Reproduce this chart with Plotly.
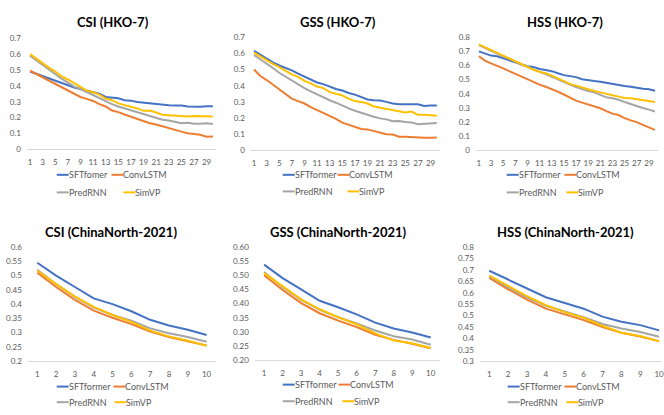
import plotly.graph_objects as go

# ---------------- data ----------------
steps_hko = list(range(1, 31))
steps_cn = list(range(1, 11))
models = ["SFTformer", "ConvLSTM", "PredRNN", "SimVP"]
models_first = ["SFTfomer", "ConvLSTM", "PredRNN", "SimVP"]

csi_hko_sftformer = [0.49, 0.475, 0.46, 0.45, 0.435, 0.42, 0.405, 0.39, 0.38, 0.37, 0.36, 0.35, 0.33, 0.328, 0.322,
                     0.31, 0.307, 0.298, 0.294, 0.29, 0.285, 0.28, 0.278, 0.277, 0.277, 0.27, 0.268, 0.268, 0.272, 0.272]
csi_hko_convlstm = [0.495, 0.475, 0.455, 0.435, 0.41, 0.39, 0.37, 0.35, 0.33, 0.318, 0.305, 0.285, 0.27, 0.245, 0.235,
                    0.22, 0.205, 0.195, 0.18, 0.165, 0.157, 0.145, 0.135, 0.125, 0.112, 0.102, 0.097, 0.092, 0.08, 0.082]
csi_hko_predrnn = [0.59, 0.56, 0.535, 0.505, 0.475, 0.445, 0.42, 0.395, 0.38, 0.36, 0.34, 0.325, 0.3, 0.285, 0.27,
                   0.258, 0.245, 0.232, 0.222, 0.21, 0.195, 0.187, 0.182, 0.175, 0.165, 0.168, 0.162, 0.162, 0.165, 0.16]
csi_hko_simvp = [0.6, 0.57, 0.545, 0.515, 0.49, 0.46, 0.44, 0.415, 0.39, 0.37, 0.36, 0.345, 0.32, 0.31, 0.29,
                 0.28, 0.27, 0.258, 0.243, 0.245, 0.232, 0.218, 0.215, 0.212, 0.208, 0.208, 0.21, 0.208, 0.21, 0.208]

gss_hko_sftformer = [0.615, 0.59, 0.565, 0.545, 0.525, 0.51, 0.495, 0.475, 0.455, 0.435, 0.42, 0.41, 0.395, 0.38, 0.37,
                     0.355, 0.345, 0.33, 0.315, 0.31, 0.308, 0.3, 0.29, 0.285, 0.283, 0.285, 0.285, 0.275, 0.277, 0.278]
gss_hko_convlstm = [0.5, 0.46, 0.435, 0.405, 0.38, 0.35, 0.32, 0.305, 0.29, 0.268, 0.25, 0.232, 0.21, 0.195, 0.172,
                    0.16, 0.145, 0.132, 0.13, 0.12, 0.11, 0.1, 0.098, 0.085, 0.085, 0.082, 0.08, 0.078, 0.078, 0.08]
gss_hko_predrnn = [0.59, 0.565, 0.535, 0.51, 0.48, 0.455, 0.43, 0.405, 0.385, 0.365, 0.345, 0.33, 0.31, 0.295, 0.275,
                   0.26, 0.245, 0.232, 0.218, 0.208, 0.198, 0.192, 0.18, 0.182, 0.175, 0.172, 0.162, 0.165, 0.165, 0.17]
gss_hko_simvp = [0.605, 0.58, 0.555, 0.535, 0.515, 0.49, 0.47, 0.455, 0.43, 0.415, 0.395, 0.385, 0.36, 0.35, 0.34,
                 0.32, 0.305, 0.3, 0.29, 0.272, 0.265, 0.26, 0.252, 0.243, 0.235, 0.24, 0.22, 0.22, 0.216, 0.215]

hss_hko_sftformer = [0.70, 0.685, 0.67, 0.665, 0.65, 0.635, 0.62, 0.61, 0.595, 0.59, 0.575, 0.568, 0.56, 0.545, 0.532,
                     0.525, 0.518, 0.503, 0.495, 0.49, 0.485, 0.477, 0.468, 0.462, 0.455, 0.45, 0.442, 0.435, 0.432, 0.422]
hss_hko_convlstm = [0.665, 0.635, 0.615, 0.6, 0.58, 0.56, 0.54, 0.522, 0.505, 0.485, 0.465, 0.45, 0.435, 0.415, 0.395,
                    0.375, 0.352, 0.338, 0.325, 0.31, 0.298, 0.278, 0.26, 0.25, 0.228, 0.212, 0.2, 0.18, 0.162, 0.145]
hss_hko_predrnn = [0.745, 0.725, 0.70, 0.68, 0.665, 0.65, 0.625, 0.605, 0.59, 0.57, 0.555, 0.54, 0.52, 0.5, 0.48,
                   0.465, 0.448, 0.432, 0.42, 0.41, 0.392, 0.375, 0.368, 0.358, 0.342, 0.328, 0.31, 0.3, 0.288, 0.275]
hss_hko_simvp = [0.75, 0.73, 0.71, 0.69, 0.67, 0.65, 0.628, 0.61, 0.59, 0.57, 0.555, 0.545, 0.528, 0.51, 0.488,
                 0.47, 0.458, 0.445, 0.43, 0.42, 0.41, 0.398, 0.39, 0.38, 0.37, 0.368, 0.362, 0.352, 0.345, 0.342]

csi_cn_sftformer = [0.545, 0.5, 0.46, 0.42, 0.4, 0.375, 0.345, 0.325, 0.31, 0.292]
csi_cn_convlstm = [0.51, 0.46, 0.415, 0.377, 0.352, 0.33, 0.304, 0.285, 0.27, 0.255]
csi_cn_predrnn = [0.52, 0.47, 0.425, 0.388, 0.362, 0.342, 0.315, 0.298, 0.285, 0.268]
csi_cn_simvp = [0.518, 0.47, 0.427, 0.39, 0.362, 0.338, 0.307, 0.287, 0.272, 0.254]

gss_cn_sftformer = [0.538, 0.49, 0.45, 0.41, 0.387, 0.362, 0.333, 0.312, 0.298, 0.28]
gss_cn_convlstm = [0.50, 0.448, 0.402, 0.366, 0.340, 0.317, 0.29, 0.272, 0.258, 0.242]
gss_cn_predrnn = [0.512, 0.458, 0.413, 0.378, 0.352, 0.33, 0.305, 0.285, 0.273, 0.255]
gss_cn_simvp = [0.508, 0.46, 0.415, 0.38, 0.352, 0.327, 0.295, 0.27, 0.26, 0.243]

hss_cn_sftformer = [0.696, 0.657, 0.62, 0.58, 0.555, 0.53, 0.495, 0.473, 0.458, 0.435]
hss_cn_convlstm = [0.665, 0.615, 0.57, 0.53, 0.505, 0.48, 0.45, 0.425, 0.408, 0.388]
hss_cn_predrnn = [0.672, 0.623, 0.58, 0.543, 0.518, 0.493, 0.463, 0.443, 0.428, 0.407]
hss_cn_simvp = [0.675, 0.63, 0.585, 0.545, 0.515, 0.49, 0.455, 0.425, 0.41, 0.387]

titles = ["CSI (HKO-7)", "GSS (HKO-7)", "HSS (HKO-7)",
          "CSI (ChinaNorth-2021)", "GSS (ChinaNorth-2021)", "HSS (ChinaNorth-2021)"]

# ---------------- styling / layout ----------------
W, H = 664, 415
COLORS = ["#4472C4", "#ED7D31", "#A5A5A5", "#FFC000"]
FONT = "Lato, 'Open Sans', sans-serif"
TICKC = "#595959"


def px(x):
    return x / W


def py(y):
    return 1 - y / H


panels = [
    dict(x=steps_hko, ys=[csi_hko_sftformer, csi_hko_convlstm, csi_hko_predrnn, csi_hko_simvp], names=models_first,
         xd=(27, 217), yd=(34, 148), xr=(0.5, 30.5), yr=(0, 0.7), dt=0.1, fmt="", xdt=2,
         tpos=(114, 17), leg=((174, 57, 112), (192, 57, 124))),
    dict(x=steps_hko, ys=[gss_hko_sftformer, gss_hko_convlstm, gss_hko_predrnn, gss_hko_simvp], names=models,
         xd=(252, 442), yd=(33, 149), xr=(0.5, 30.5), yr=(0, 0.7), dt=0.1, fmt="", xdt=2,
         tpos=(340, 17), leg=((174, 284, 339), (191, 284, 349))),
    dict(x=steps_hko, ys=[hss_hko_sftformer, hss_hko_convlstm, hss_hko_predrnn, hss_hko_simvp], names=models,
         xd=(478, 661), yd=(33, 149), xr=(0.5, 30.5), yr=(0, 0.8), dt=0.1, fmt="", xdt=2,
         tpos=(568, 17), leg=((174, 509, 567), (192, 509, 569))),
    dict(x=steps_cn, ys=[csi_cn_sftformer, csi_cn_convlstm, csi_cn_predrnn, csi_cn_simvp], names=models,
         xd=(28, 217), yd=(248, 365), xr=(0.5, 10.5), yr=(0.2, 0.6), dt=0.05, fmt="", xdt=1,
         tpos=(112, 233), leg=((391, 57, 114), (407, 57, 115))),
    dict(x=steps_cn, ys=[gss_cn_sftformer, gss_cn_convlstm, gss_cn_predrnn, gss_cn_simvp], names=models,
         xd=(256, 442), yd=(248, 364), xr=(0.5, 10.5), yr=(0.2, 0.6), dt=0.05, fmt=".2f", xdt=1,
         tpos=(340, 233), leg=((389, 284, 340), (406, 284, 344))),
    dict(x=steps_cn, ys=[hss_cn_sftformer, hss_cn_convlstm, hss_cn_predrnn, hss_cn_simvp], names=models,
         xd=(482, 664), yd=(248, 365), xr=(0.5, 10.1), yr=(0.3, 0.8), dt=0.05, fmt="", xdt=1,
         tpos=(568, 233), leg=((391, 510, 567), (407, 510, 569))),
]

fig = go.Figure()
layout = dict(width=W, height=H, margin=dict(l=0, r=0, t=0, b=0),
              paper_bgcolor="white", plot_bgcolor="white", showlegend=False,
              font=dict(family=FONT, color=TICKC))
shapes, annotations = [], []
LL = 12  # legend line length

for i, p in enumerate(panels):
    k = "" if i == 0 else str(i + 1)
    for j in range(4):
        fig.add_trace(go.Scatter(x=p["x"], y=p["ys"][j], name=p["names"][j], mode="lines",
                                 line=dict(color=COLORS[j], width=2),
                                 xaxis="x" + k, yaxis="y" + k, showlegend=False))
    layout["xaxis" + k] = dict(domain=[px(p["xd"][0]), px(p["xd"][1])], anchor="y" + k,
                               range=list(p["xr"]), tick0=1, dtick=p["xdt"], showgrid=False,
                               zeroline=False, showline=True, linecolor="#D9D9D9", linewidth=1,
                               ticks="", ticklabelstandoff=5, ticklabeloverflow="allow",
                               tickfont=dict(size=8, color=TICKC, family=FONT))
    layout["yaxis" + k] = dict(domain=[py(p["yd"][1]), py(p["yd"][0])], anchor="x" + k,
                               range=[p["yr"][0], p["yr"][1] + 1e-6], tick0=p["yr"][0], dtick=p["dt"],
                               tickformat=p["fmt"], showgrid=False, zeroline=False, showline=False,
                               ticks="", ticklabelstandoff=5,
                               tickfont=dict(size=8, color=TICKC, family=FONT))
    annotations.append(dict(text="<b>" + titles[i] + "</b>", x=px(p["tpos"][0]), y=py(p["tpos"][1]),
                            xref="paper", yref="paper", xanchor="center", yanchor="middle",
                            showarrow=False, font=dict(size=13, color="#000000", family=FONT)))
    for r, (yy, xa, xb) in enumerate(p["leg"]):
        for c, xs in enumerate((xa, xb)):
            j = r * 2 + c
            shapes.append(dict(type="line", xref="paper", yref="paper",
                               x0=px(xs), x1=px(xs + LL), y0=py(yy), y1=py(yy),
                               line=dict(color=COLORS[j], width=2)))
            annotations.append(dict(text=p["names"][j], x=px(xs + LL), y=py(yy), xref="paper", yref="paper",
                                    xanchor="left", yanchor="middle", showarrow=False, xshift=-2,
                                    font=dict(size=9, color=TICKC, family=FONT)))

layout["shapes"] = shapes
layout["annotations"] = annotations
fig.update_layout(**layout)
fig.write_html("out.html")
